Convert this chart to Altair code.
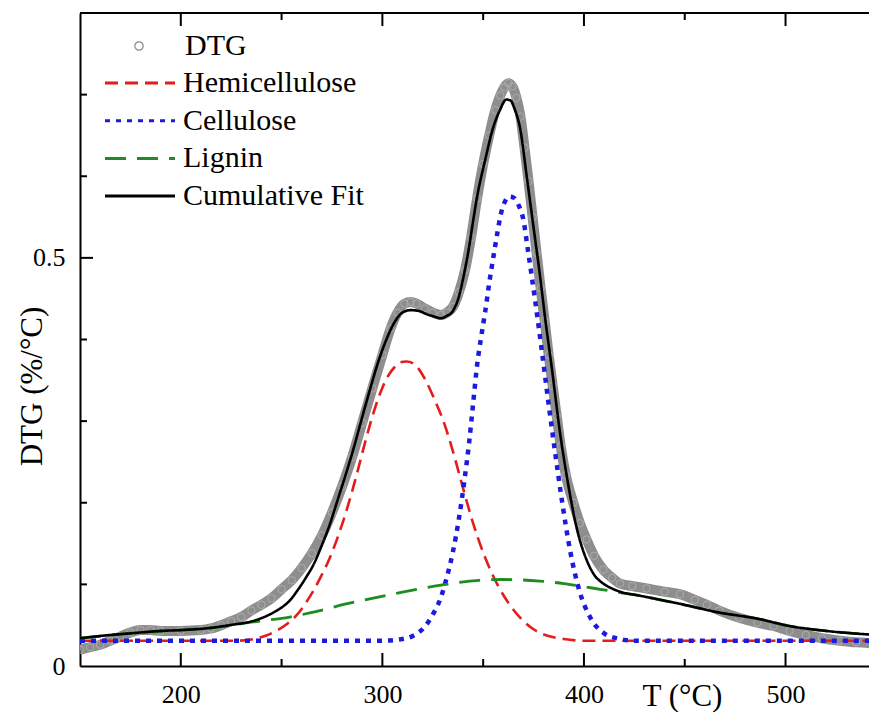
import altair as alt
import pandas as pd

# ---------------- data ----------------
T_DTG = [150, 155, 160, 165, 170, 175, 180, 185, 190, 200,
         210, 215, 220, 225, 230, 235, 240, 245, 250, 255,
         260, 265, 270, 275, 280, 285, 290, 295, 300, 304,
         307.5, 311, 314, 317, 321, 325, 329, 332, 335, 338,
         341, 344, 347, 350, 353, 356, 358.5, 360.5, 362.5, 364.5,
         366.5, 368.5, 370.5, 372.5, 374.5, 376.5, 378.5, 380.5, 382.5, 384.5,
         386.5, 388.5, 391, 394.7, 398, 401.3, 405, 409.6, 414, 417.9,
         424, 431, 440, 447.6, 455, 461, 467, 477, 486, 494,
         502, 510, 518, 527, 535, 545]
V_DTG = [0.020, 0.023, 0.026, 0.031, 0.036, 0.041, 0.044, 0.044, 0.043, 0.043,
         0.044, 0.046, 0.050, 0.055, 0.060, 0.068, 0.075, 0.083, 0.094, 0.105,
         0.120, 0.138, 0.160, 0.188, 0.220, 0.256, 0.298, 0.340, 0.381, 0.413,
         0.433, 0.444, 0.446, 0.444, 0.438, 0.433, 0.430, 0.433, 0.440, 0.458,
         0.485, 0.525, 0.573, 0.615, 0.650, 0.681, 0.699, 0.709, 0.714, 0.710,
         0.696, 0.673, 0.635, 0.594, 0.550, 0.506, 0.463, 0.423, 0.381, 0.343,
         0.306, 0.269, 0.234, 0.200, 0.175, 0.155, 0.135, 0.118, 0.108, 0.101,
         0.098, 0.095, 0.091, 0.088, 0.081, 0.075, 0.068, 0.059, 0.053, 0.049,
         0.043, 0.038, 0.034, 0.031, 0.029, 0.028]

T_HEMI = [150, 200, 228, 236, 242, 248, 253, 257, 263, 269,
          274, 279, 283, 287, 291, 294, 297, 300, 303, 306,
          309, 312, 315, 318, 321, 324, 327, 330, 335, 340,
          345, 350, 355, 360, 365, 370, 375, 382, 390, 400, 545]
V_HEMI = [0.031, 0.031, 0.031, 0.033, 0.037, 0.044, 0.052, 0.061, 0.081, 0.107,
          0.133, 0.166, 0.197, 0.232, 0.270, 0.297, 0.321, 0.341, 0.356, 0.366,
          0.372, 0.373, 0.371, 0.364, 0.352, 0.337, 0.320, 0.302, 0.263, 0.218,
          0.175, 0.139, 0.110, 0.087, 0.069, 0.055, 0.045, 0.037, 0.033, 0.031, 0.031]

T_CELL = [150, 300, 310, 316, 321, 325, 329, 332, 335, 338,
          341, 343, 345, 347, 349, 351, 353, 355, 357, 359,
          361, 363, 365, 367.5, 370, 372, 374, 376, 379, 382,
          385.5, 389, 393, 398, 403, 410, 418, 425, 545]
V_CELL = [0.031, 0.031, 0.033, 0.038, 0.048, 0.063, 0.084, 0.109, 0.140, 0.181,
          0.233, 0.273, 0.321, 0.369, 0.403, 0.434, 0.469, 0.500, 0.530, 0.556,
          0.570, 0.575, 0.574, 0.565, 0.546, 0.513, 0.479, 0.444, 0.388, 0.330,
          0.265, 0.204, 0.143, 0.090, 0.060, 0.040, 0.033, 0.031, 0.031]

T_LIG = [150, 175, 200, 220, 236, 254, 264, 282, 307, 329,
         348, 360, 378, 390, 398, 408, 418, 428, 438, 448,
         466, 486, 502, 520, 545]
V_LIG = [0.034, 0.040, 0.044, 0.048, 0.054, 0.060, 0.065, 0.076, 0.089, 0.099,
         0.105, 0.106, 0.104, 0.101, 0.098, 0.094, 0.090, 0.086, 0.081, 0.076,
         0.066, 0.058, 0.049, 0.043, 0.038]

T_FIT = [150, 165, 175, 190, 200, 212, 224, 237, 244, 249,
         254, 258, 262, 266, 270, 274, 278, 282, 286, 290,
         294, 298, 302, 306, 310, 314, 318, 322, 326, 329,
         332, 335, 338, 340.5, 343, 345, 347, 351, 355, 358.3,
         361.5, 363.5, 365.5, 368.3, 371.6, 374.9, 378.2, 381, 384, 388,
         392, 396.4, 401.3, 405, 409, 413, 418, 428, 438, 448,
         466, 486, 502, 520, 545]
V_FIT = [0.034, 0.038, 0.040, 0.043, 0.044, 0.046, 0.050, 0.056, 0.063, 0.070,
         0.080, 0.093, 0.108, 0.125, 0.148, 0.174, 0.205, 0.236, 0.269, 0.305,
         0.340, 0.373, 0.400, 0.421, 0.433, 0.436, 0.435, 0.431, 0.428, 0.426,
         0.429, 0.435, 0.453, 0.480, 0.513, 0.545, 0.575, 0.620, 0.660, 0.681,
         0.694, 0.693, 0.683, 0.659, 0.600, 0.539, 0.478, 0.421, 0.366, 0.288,
         0.225, 0.169, 0.130, 0.112, 0.102, 0.096, 0.091, 0.086, 0.081, 0.076,
         0.066, 0.058, 0.049, 0.043, 0.038]

SERIES = ["Hemicellulose", "Cellulose", "Lignin", "Cumulative Fit"]
COLORS = ["#e51c1c", "#1a1ae0", "#1e8c1e", "#000000"]
DASHES = [[13, 7], [5, 6], [21, 11], [1, 0]]
WIDTHS = [2.6, 4.5, 2.8, 2.6]

X_MAJOR = [200, 300, 400, 500]
X_MINOR = [250, 350, 450]
Y_MAJOR = [0.5]
Y_MINOR = [0.1, 0.2, 0.3, 0.4, 0.6, 0.7]

# ---------------- chart ----------------
W, H = 789, 653
FONT = "Liberation Serif"

xs = alt.Scale(domain=[150, 541.4], nice=False, zero=False)
ys = alt.Scale(domain=[0, 0.8], nice=False, zero=False)

xaxis = alt.Axis(values=X_MAJOR, format="d", title="T (°C)", ticks=False, tickSize=0,
                 grid=False, domainColor="black", domainWidth=2, labelFlush=False,
                 labelFont=FONT, labelFontSize=26, labelColor="black", labelPadding=15,
                 titleFont=FONT, titleFontSize=31, titleFontWeight="normal",
                 titleColor="black", titleX=602, titleY=39, titleAlign="center",
                 titleBaseline="alphabetic")
yaxis = alt.Axis(values=[0, 0.5], format="~g", title="DTG (%/°C)", ticks=False, tickSize=0,
                 grid=False, domainColor="black", domainWidth=2, labelFlush=False,
                 labelFont=FONT, labelFontSize=26, labelColor="black", labelPadding=15,
                 titleFont=FONT, titleFontSize=31, titleFontWeight="normal",
                 titleColor="black", titleX=-48, titleY=373, titleAngle=270,
                 titleAlign="center", titleBaseline="middle")


def X(field="T"):
    return alt.X(f"{field}:Q", scale=xs, axis=xaxis)


def Y(field="v"):
    return alt.Y(f"{field}:Q", scale=ys, axis=yaxis)


df_dtg = pd.DataFrame({"T": T_DTG, "v": V_DTG, "lab": "DTG"})

legend_dtg = alt.Legend(title=None, orient="none", legendX=44, legendY=18, padding=0,
                        symbolSize=70, symbolStrokeColor="#888888", symbolFillColor="white",
                        symbolStrokeWidth=1.2, labelFont=FONT, labelFontSize=30,
                        labelColor="black", labelOffset=31, labelLimit=400)

legend_lines = alt.Legend(title=None, orient="none", legendX=45, legendY=55, padding=0,
                          symbolType="M-3.5,0L3.5,0", symbolSize=400, symbolStrokeWidth=3,
                          labelFont=FONT, labelFontSize=30, labelColor="black",
                          labelOffset=28, rowPadding=7.7, labelLimit=400)

cscale = alt.Scale(domain=SERIES, range=COLORS)
dscale = alt.Scale(domain=SERIES, range=DASHES)

layers = []
# DTG as a dense band of open circles
layers.append(alt.Chart(df_dtg).mark_line(color="#8e8e8e", strokeWidth=10, clip=True,
                                          interpolate="monotone").encode(x=X(), y=Y()))
layers.append(alt.Chart(df_dtg).mark_point(filled=False, color="#adadad", size=55, clip=True,
                                           strokeWidth=1, opacity=1).encode(
    x=X(), y=Y(),
    shape=alt.Shape("lab:N", scale=alt.Scale(domain=["DTG"], range=["circle"]),
                    legend=legend_dtg)))

comp = {"Hemicellulose": (T_HEMI, V_HEMI), "Cellulose": (T_CELL, V_CELL),
        "Lignin": (T_LIG, V_LIG), "Cumulative Fit": (T_FIT, V_FIT)}
for name, w in zip(SERIES, WIDTHS):
    t, v = comp[name]
    d = pd.DataFrame({"T": t, "v": v, "series": name})
    layers.append(alt.Chart(d).mark_line(strokeWidth=w, interpolate="monotone", clip=True).encode(
        x=X(), y=Y(),
        color=alt.Color("series:N", scale=cscale, legend=legend_lines),
        strokeDash=alt.StrokeDash("series:N", scale=dscale, legend=legend_lines)))


# inward ticks
def xticks(vals, length):
    d = pd.DataFrame({"T": vals})
    bot = alt.Chart(d).mark_rule(color="black", strokeWidth=2).encode(
        x=X(), y=alt.value(H), y2=alt.value(H - length))
    top = alt.Chart(d).mark_rule(color="black", strokeWidth=2).encode(
        x=X(), y=alt.value(0), y2=alt.value(length))
    return [bot, top]


def yticks(vals, length):
    d = pd.DataFrame({"v": vals})
    return [alt.Chart(d).mark_rule(color="black", strokeWidth=2).encode(
        y=Y(), x=alt.value(0), x2=alt.value(length))]


layers += xticks(X_MAJOR, 13) + xticks(X_MINOR, 7)
layers += yticks(Y_MAJOR, 13) + yticks(Y_MINOR, 7)

# top frame line
layers.append(alt.Chart(pd.DataFrame({"T": [150]})).mark_rule(color="black", strokeWidth=2).encode(
    x=alt.value(0), x2=alt.value(W), y=alt.value(0)))

chart = alt.layer(*layers).properties(
    width=W, height=H,
    padding={"left": 72, "top": 5, "right": 0, "bottom": 46},
    autosize=alt.AutoSizeParams(type="none"),
    background="white",
).configure_view(stroke=None)

chart.save("out.html", embed_options={"renderer": "svg", "actions": False})
